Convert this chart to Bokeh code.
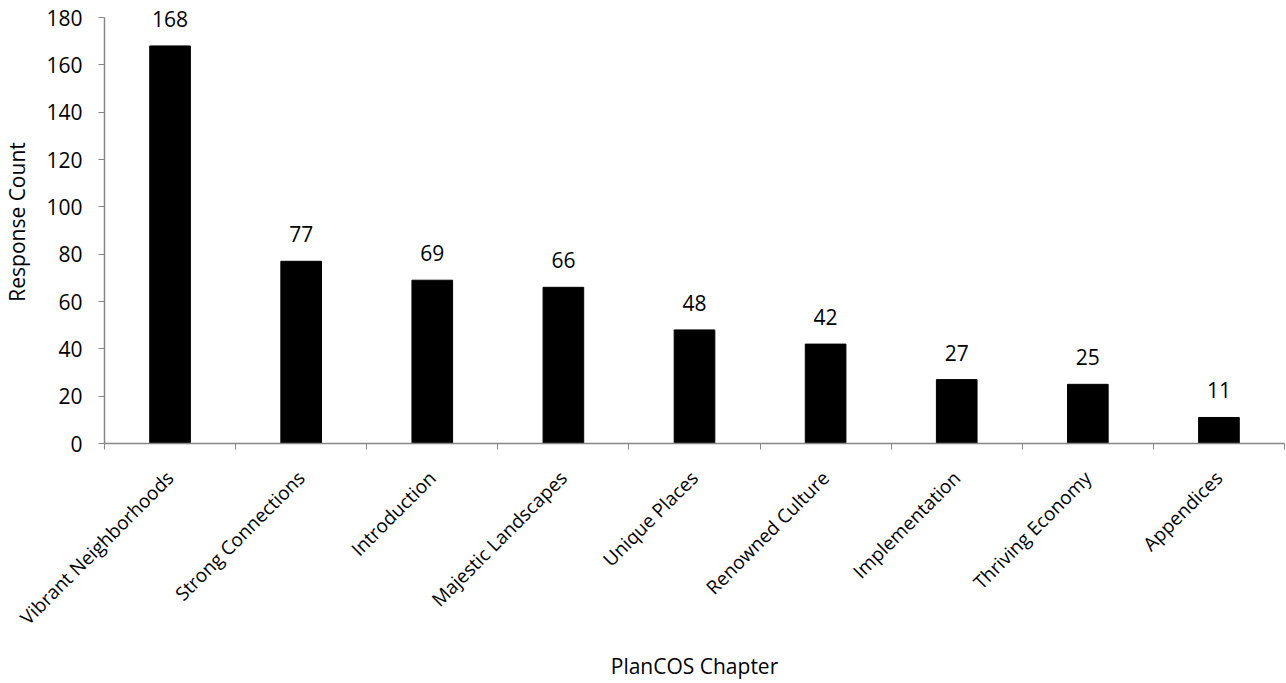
from bokeh.plotting import figure
from bokeh.models import ColumnDataSource, FixedTicker, Range1d, LabelSet
from bokeh.core.properties import value
from bokeh.embed import file_html
from bokeh.resources import INLINE

chapters = ["Vibrant Neighborhoods", "Strong Connections", "Introduction",
            "Majestic Landscapes", "Unique Places", "Renowned Culture",
            "Implementation", "Thriving Economy", "Appendices"]
counts = [168, 77, 69, 66, 48, 42, 27, 25, 11]
y_ticks = [0, 20, 40, 60, 80, 100, 120, 140, 160, 180]

n = len(chapters)
centers = [i + 0.5 for i in range(n)]
bounds = list(range(n + 1))

FONT = "Open Sans"
FS = "21px"
AXIS_COLOR = "#868686"

src = ColumnDataSource(dict(x=centers, y=counts, label=[str(c) for c in counts]))

# y range extends a little past 180 so the top value label has room; the axis line stops at 180
p = figure(width=1286, height=683, output_backend="svg", toolbar_location=None,
           x_range=Range1d(0, n), y_range=Range1d(0, 187.2),
           min_border_left=101, min_border_top=0, min_border_right=2, min_border_bottom=239)
p.outline_line_color = None
p.xgrid.visible = False
p.ygrid.visible = False

p.vbar(x="x", top="y", width=0.31, source=src, fill_color="black", line_color="black")
labels = LabelSet(x="x", y="y", text="label", source=src, text_align="center",
                  text_baseline="bottom", y_offset=19, text_font=value(FONT),
                  text_font_size=value(FS), text_color="black")
p.add_layout(labels)

# x axis
xa = p.xaxis[0]
xa.ticker = FixedTicker(ticks=centers, minor_ticks=bounds)
xa.major_label_overrides = {c: lab for c, lab in zip(centers, chapters)}
xa.major_tick_line_color = None
xa.minor_tick_line_color = AXIS_COLOR
xa.minor_tick_out = 6
xa.minor_tick_in = 0
xa.axis_line_color = AXIS_COLOR
xa.axis_line_width = 1.5
xa.major_label_orientation = 0.785398
xa.major_label_text_font = FONT
xa.major_label_text_font_size = "19px"
xa.major_label_text_color = "black"
xa.major_label_standoff = 25
xa.axis_label = "PlanCOS Chapter"
xa.axis_label_text_font = FONT
xa.axis_label_text_font_size = FS
xa.axis_label_text_font_style = "normal"
xa.axis_label_text_color = "black"
xa.axis_label_standoff = 10

# y axis
ya = p.yaxis[0]
ya.ticker = FixedTicker(ticks=y_ticks)
ya.bounds = (0, 180)
ya.minor_tick_line_color = None
ya.major_tick_line_color = AXIS_COLOR
ya.major_tick_out = 6
ya.major_tick_in = 0
ya.axis_line_color = AXIS_COLOR
ya.axis_line_width = 1.5
ya.major_label_text_font = FONT
ya.major_label_text_font_size = FS
ya.major_label_text_color = "black"
ya.major_label_standoff = 16
ya.axis_label = "Response Count"
ya.axis_label_text_font = FONT
ya.axis_label_text_font_size = FS
ya.axis_label_text_font_style = "normal"
ya.axis_label_text_color = "black"
ya.axis_label_standoff = 12

open("out.html", "w").write(file_html(p, INLINE))
